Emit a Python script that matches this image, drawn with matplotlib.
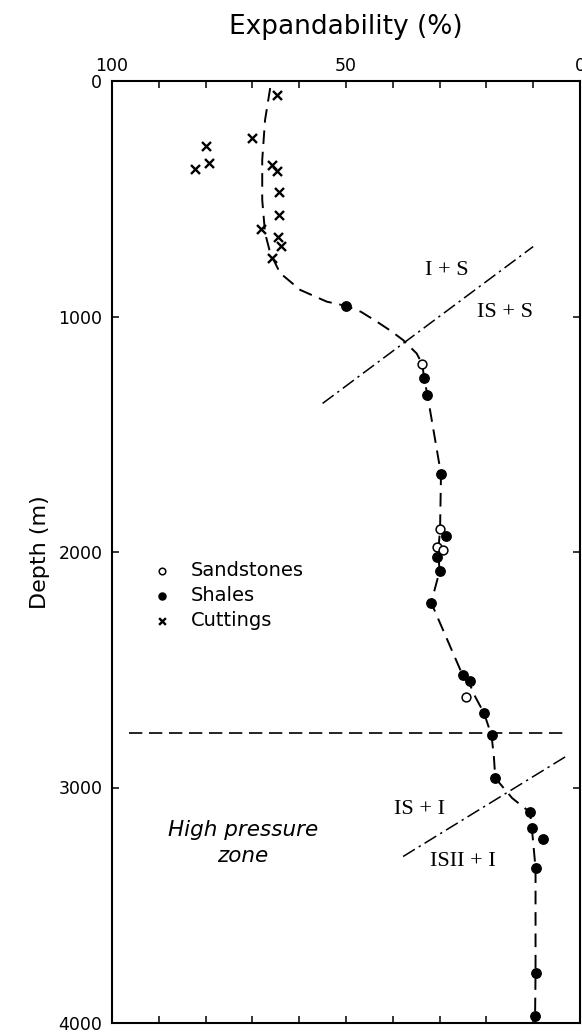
import numpy as np
import matplotlib.pyplot as plt

# expandability (%) vs depth (m)
sand_x = [33.7, 30.0, 30.5, 29.3, 24.4]
sand_y = [1202, 1903, 1977, 1992, 2614]

shale_x = [50.0, 33.3, 32.6, 29.7, 28.7, 30.5, 30.0, 31.8, 25.1, 23.4, 20.5, 18.9,
           18.1, 10.7, 10.3, 8.0, 9.4, 9.5, 9.6]
shale_y = [955, 1263, 1333, 1669, 1932, 2020, 2081, 2215, 2522, 2546, 2685, 2779,
           2960, 3105, 3170, 3218, 3342, 3788, 3972]

cut_x = [64.8, 70.0, 79.9, 79.3, 82.3, 65.9, 64.8, 64.3, 64.3, 68.1, 64.5, 63.9, 65.9]
cut_y = [59, 240, 276, 350, 375, 358, 382, 471, 569, 627, 661, 699, 753]

# hand drawn trend curve
curve_x = [66.2, 67.3, 67.9, 67.9, 67.3, 66.2, 64.1, 59.8, 54.1, 50.0, 46.8, 43.4,
           40.5, 37.8, 34.9, 33.7, 33.3, 32.6, 29.7, 29.9, 30.3, 30.0, 31.8, 25.1,
           23.6, 22.4, 20.5, 18.9, 18.4, 18.1, 14.5, 10.7, 10.3, 9.5, 9.5, 9.6, 9.6]
curve_y = [30, 166, 335, 505, 645, 730, 815, 887, 937, 955, 980, 1022,
           1060, 1100, 1157, 1202, 1263, 1333, 1669, 1903, 2000, 2081, 2215, 2522,
           2560, 2614, 2685, 2779, 2870, 2960, 3045, 3105, 3170, 3342, 3788, 3972, 4000]

# transition boundaries
div1_x = [55.0, 10.0]
div1_y = [1369, 703]
div2_x = [37.8, 3.0]
div2_y = [3293, 2868]
hp_x = [96.4, 3.3]
hp_y = [2770, 2770]

fig = plt.figure(figsize=(5.82, 10.33), dpi=100)
ax = fig.add_axes([112 / 582, 1 - 1023 / 1033, 468 / 582, 942 / 1033])
ax.set_xlim(100, 0)
ax.set_ylim(4000, 0)

ax.plot(curve_x, curve_y, color='black', lw=1.4, dashes=(7, 4), zorder=1)
ax.plot(hp_x, hp_y, color='black', lw=1.2, dashes=(8, 4), zorder=1)
ax.plot(div1_x, div1_y, color='black', lw=1.1, dashes=(9, 3, 1.5, 3), zorder=1)
ax.plot(div2_x, div2_y, color='black', lw=1.1, dashes=(9, 3, 1.5, 3), zorder=1)

s_open = ax.scatter(sand_x, sand_y, s=40, facecolor='white', edgecolor='black',
                    lw=1.1, zorder=3, label='Sandstones')
s_fill = ax.scatter(shale_x, shale_y, s=46, color='black', zorder=3, label='Shales')
s_cut = ax.scatter(cut_x, cut_y, s=42, marker='x', color='black', lw=1.7, zorder=3,
                   label='Cuttings')

fnt = 'DejaVu Sans'
ax.legend(handles=[s_open, s_fill, s_cut], loc='upper left', bbox_to_anchor=(0.085, 0.49),
          frameon=False, handlelength=1.0, handletextpad=1.0,
          borderaxespad=0, borderpad=0, labelspacing=0.3, markerscale=0.75,
          prop={'family': fnt, 'size': 14})

serif = 'Liberation Serif'
ax.text(28.5, 803, 'I + S', fontsize=16, family=serif, ha='center', va='center')
ax.text(16.0, 984, 'IS + S', fontsize=16, family=serif, ha='center', va='center')
ax.text(34.2, 3095, 'IS + I', fontsize=16, family=serif, ha='center', va='center')
ax.text(25.1, 3314, 'ISII + I', fontsize=16, family=serif, ha='center', va='center')
ax.text(72.0, 3235, 'High pressure\nzone', fontsize=15.5, family=fnt, style='italic',
        ha='center', va='center', linespacing=1.4)

xt = list(range(0, 101, 10))
ax.set_xticks(xt, [str(v) if v % 50 == 0 else '' for v in xt])
ax.set_yticks([0, 1000, 2000, 3000, 4000])
ax.tick_params(axis='x', top=True, bottom=True, labeltop=True, labelbottom=False,
               direction='in', length=5, width=1.1, pad=4, labelsize=12.5)
ax.tick_params(axis='y', left=True, right=True, direction='in', length=5, width=1.1,
               pad=7, labelsize=12.5)
for lab in ax.get_xticklabels() + ax.get_yticklabels():
    lab.set_family(fnt)
for sp in ax.spines.values():
    sp.set_linewidth(1.5)

ax.xaxis.set_label_position('top')
ax.set_xlabel('Expandability (%)', fontsize=19, family=fnt, labelpad=17)
ax.set_ylabel('Depth (m)', fontsize=16, family=fnt, labelpad=6)

fig.savefig('out.png', dpi=100)
